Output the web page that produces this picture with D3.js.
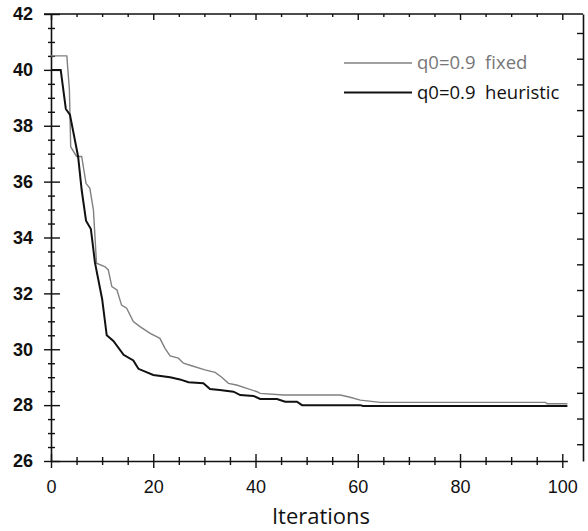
<!DOCTYPE html>
<html>
<head>
<meta charset="utf-8">
<script src="https://cdn.jsdelivr.net/npm/d3@7/dist/d3.min.js"></script>
<style>
  body { margin: 0; background: #fff; }
  svg { display: block; }
</style>
</head>
<body>
<svg width="588" height="531"></svg>
<script>
// q0=0.9 fixed (grey)
const fixedIter = [0, 3.1, 3.3, 3.6, 3.85, 5.0, 6.0, 6.85, 7.6, 8.3, 8.9, 10.6, 11.2, 11.9, 12.9, 13.8, 14.8, 16.1, 17.4, 19.4, 21.3, 22.3, 23.3, 24.9, 25.9, 27.5, 30.1, 32.1, 33.4, 34.7, 36.3, 38.3, 40.3, 40.9, 45.5, 56.6, 58.5, 60.5, 64.4, 96.7, 97, 101];
const fixedVal = [40.5, 40.5, 40.0, 39.3, 37.25, 36.9, 36.9, 35.94, 35.76, 34.98, 33.08, 32.95, 32.84, 32.24, 32.12, 31.58, 31.47, 30.99, 30.81, 30.57, 30.39, 30.03, 29.76, 29.68, 29.5, 29.41, 29.26, 29.17, 29.0, 28.78, 28.72, 28.6, 28.48, 28.42, 28.36, 28.36, 28.28, 28.18, 28.1, 28.1, 28.05, 28.05];

// q0=0.9 heuristic (black)
const heurIter = [0, 1.9, 2.9, 3.7, 5.3, 6.0, 6.85, 7.8, 8.6, 10, 10.9, 12.2, 14.2, 16.1, 17.1, 20, 23.3, 25.2, 26.9, 29.8, 31.1, 33, 35.7, 37, 39.6, 40.9, 44.2, 45.8, 48.1, 49.1, 60.5, 61, 101];
const heurVal = [40.0, 40.0, 38.6, 38.4, 36.9, 35.7, 34.6, 34.3, 33.1, 31.8, 30.5, 30.3, 29.8, 29.6, 29.3, 29.08, 29.0, 28.92, 28.82, 28.78, 28.58, 28.54, 28.48, 28.36, 28.33, 28.22, 28.22, 28.12, 28.12, 28.0, 28.0, 27.97, 27.97];

const seriesNames = ["q0=0.9  fixed", "q0=0.9  heuristic"];
const seriesColors = ["#808080", "#111"];
const xTicks = [0, 20, 40, 60, 80, 100];
const yTicks = [26, 28, 30, 32, 34, 36, 38, 40, 42];

let svg = d3.select("svg");
let margin = { top: 14, left: 51 };
let plotW = 532, plotH = 447;

let x = d3.scaleLinear().domain([0, 101]).range([0, 516.4]);
let y = d3.scaleLinear().domain([26, 42]).range([plotH, 0]);

let chart = svg.append("g").attr("transform", "translate(" + margin.left + "," + margin.top + ")");

const xMinor = d3.range(0, 101, 5).filter(d => d % 20 != 0);
const yMinor = d3.range(26, 42, 0.5).filter(d => d % 2 != 0);
const rightTicks = d3.range(26.6, 42, 0.92);

function styleAxis(sel) {
  sel.selectAll("line").attr("stroke", "#111").attr("stroke-width", 1.4);
  sel.select(".domain").attr("stroke", "#111").attr("stroke-width", 1.6);
}

// left axis: major + minor ticks crossing the line
let yAxis = chart.append("g")
  .call(d3.axisLeft(y).tickValues(yTicks).tickSize(7).tickPadding(11).tickSizeOuter(0));
yAxis.selectAll(".tick line").attr("x1", 9);
yAxis.selectAll("text").attr("font-family", "Liberation Sans, Arial, sans-serif")
  .attr("font-size", 18).attr("font-weight", "bold").attr("fill", "#111");
styleAxis(yAxis);
let yMinorAxis = chart.append("g")
  .call(d3.axisLeft(y).tickValues(yMinor).tickSize(3).tickFormat("").tickSizeOuter(0));
yMinorAxis.selectAll(".tick line").attr("x1", 4);
yMinorAxis.select(".domain").remove();
styleAxis(yMinorAxis);

// bottom axis
let xAxis = chart.append("g")
  .attr("transform", "translate(0," + plotH + ")")
  .call(d3.axisBottom(x).tickValues(xTicks).tickSize(7).tickPadding(12).tickSizeOuter(0));
xAxis.selectAll(".tick line").attr("y1", -7);
xAxis.selectAll("text").attr("font-family", "Liberation Sans, Arial, sans-serif")
  .attr("font-size", 18).attr("fill", "#111");
styleAxis(xAxis);
let xMinorAxis = chart.append("g")
  .attr("transform", "translate(0," + plotH + ")")
  .call(d3.axisBottom(x).tickValues(xMinor).tickSize(4).tickFormat("").tickSizeOuter(0));
xMinorAxis.selectAll(".tick line").attr("y1", -4);
xMinorAxis.select(".domain").remove();
styleAxis(xMinorAxis);

// top axis, ticks pointing inward
let topAxis = chart.append("g")
  .call(d3.axisTop(x).tickValues(xTicks).tickSize(-6).tickFormat("").tickSizeOuter(0));
topAxis.select(".domain").remove();
styleAxis(topAxis);
chart.append("g")
  .call(d3.axisTop(x).tickValues(xMinor).tickSize(-3).tickFormat("").tickSizeOuter(0))
  .call(g => g.select(".domain").remove())
  .call(styleAxis);
chart.append("line")
  .attr("x1", -7).attr("x2", plotW).attr("y1", 0).attr("y2", 0)
  .attr("stroke", "#111").attr("stroke-width", 1.6);

// right axis
let rightAxis = chart.append("g")
  .attr("transform", "translate(" + plotW + ",0)")
  .call(d3.axisRight(y).tickValues(rightTicks).tickSize(-6).tickFormat("").tickSizeOuter(0));
styleAxis(rightAxis);

// lines
let line = d3.line().x(d => x(d[0])).y(d => y(d[1]));
let fixedPts = fixedIter.map((d, i) => [d, fixedVal[i]]);
let heurPts = heurIter.map((d, i) => [d, heurVal[i]]);

chart.append("path").datum(fixedPts)
  .attr("d", line).attr("fill", "none")
  .attr("stroke", seriesColors[0]).attr("stroke-width", 1.4);
chart.append("path").datum(heurPts)
  .attr("d", line).attr("fill", "none")
  .attr("stroke", seriesColors[1]).attr("stroke-width", 2);

// legend
let legend = svg.append("g").attr("transform", "translate(344,63)");
seriesNames.forEach(function (name, i) {
  let row = legend.append("g").attr("transform", "translate(0," + (i * 29.5) + ")");
  row.append("line").attr("x1", 0).attr("x2", 68).attr("y1", 0).attr("y2", 0)
    .attr("stroke", seriesColors[i]).attr("stroke-width", i == 0 ? 1.5 : 2);
  row.append("text").attr("x", 73).attr("y", 6)
    .attr("font-family", "Open Sans, sans-serif").attr("font-size", 18.5)
    .attr("fill", i == 0 ? "#777" : "#111")
    .style("white-space", "pre")
    .text(name);
});

// x title
svg.append("text")
  .attr("x", 321).attr("y", 524)
  .attr("text-anchor", "middle")
  .attr("font-family", "Open Sans, sans-serif").attr("font-size", 22)
  .attr("fill", "#111")
  .text("Iterations");
</script>
</body>
</html>
